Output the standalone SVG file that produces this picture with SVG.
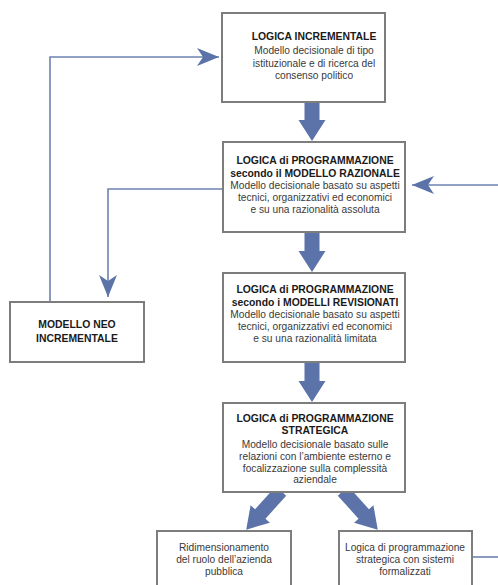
<svg xmlns="http://www.w3.org/2000/svg" width="498" height="585" viewBox="0 0 498 585">
  <style>
    .box { fill: #ffffff; stroke: #7d7d7d; stroke-width: 2; }
    .t { font-family: "Liberation Sans", Arial, sans-serif; font-size: 10.4px; font-weight: bold; fill: #1a1a1a; text-anchor: middle; }
    .b { font-family: "Liberation Sans", Arial, sans-serif; font-size: 10.2px; fill: #3a3a3a; text-anchor: middle; }
    .link { fill: none; stroke: #6d82b0; stroke-width: 1.6; }
    .flow { fill: #5b73a8; }
  </style>
  <defs>
    <!-- barbed arrowhead for thin connectors, tip at origin -->
    <marker id="barb" markerUnits="userSpaceOnUse" markerWidth="24" markerHeight="20" viewBox="-22 -10 24 20" refX="0" refY="0" orient="auto">
      <path d="M0,0 L-22,-9 L-16,0 L-22,9 Z" fill="#5b73a8"/>
    </marker>
    <!-- thick flow arrows pointing down, tail at origin -->
    <path id="down" d="M-7.5,0 H7.5 V18 H13.5 L0,39 L-13.5,18 H-7.5 Z"/>
    <path id="diag" d="M-7,0 H7 V31 H13 L0,52 L-13,31 H-7 Z"/>
  </defs>

  <g id="connectors">
    <polyline class="link" points="50,302 50,57 219,57" marker-end="url(#barb)"/>
    <polyline class="link" points="223,189 108,189 108,297" marker-end="url(#barb)"/>
    <line class="link" x1="498" y1="185" x2="412" y2="185" marker-end="url(#barb)"/>
    <line class="link" x1="472" y1="557" x2="498" y2="557"/>
    <use href="#down" class="flow" transform="translate(312,102)"/>
    <use href="#down" class="flow" transform="translate(312,233)"/>
    <use href="#down" class="flow" transform="translate(312,363)"/>
    <use href="#diag" class="flow" transform="translate(281,491) rotate(42)"/>
    <use href="#diag" class="flow" transform="translate(343,491) rotate(-42)"/>
  </g>

  <g id="logica-incrementale">
    <rect class="box" x="222" y="13" width="163" height="89"/>
    <text class="t" x="314" y="40">LOGICA INCREMENTALE</text>
    <text class="b" x="314" y="54">Modello decisionale di tipo</text>
    <text class="b" x="314" y="67">istituzionale e di ricerca del</text>
    <text class="b" x="314" y="79">consenso politico</text>
  </g>

  <g id="modello-razionale">
    <rect class="box" x="223" y="142" width="182" height="90"/>
    <text class="t" x="315" y="164">LOGICA di PROGRAMMAZIONE</text>
    <text class="t" x="315" y="177">secondo il MODELLO RAZIONALE</text>
    <text class="b" x="315" y="189">Modello decisionale basato su aspetti</text>
    <text class="b" x="315" y="201">tecnici, organizzativi ed economici</text>
    <text class="b" x="315" y="213">e su una razionalità assoluta</text>
  </g>

  <g id="modelli-revisionati">
    <rect class="box" x="223" y="273" width="182" height="89"/>
    <text class="t" x="315" y="293">LOGICA di PROGRAMMAZIONE</text>
    <text class="t" x="315" y="306">secondo i MODELLI REVISIONATI</text>
    <text class="b" x="315" y="318">Modello decisionale basato su aspetti</text>
    <text class="b" x="315" y="330">tecnici, organizzativi ed economici</text>
    <text class="b" x="315" y="342">e su una razionalità limitata</text>
  </g>

  <g id="programmazione-strategica">
    <rect class="box" x="223" y="403" width="182" height="89"/>
    <text class="t" x="315" y="422">LOGICA di PROGRAMMAZIONE</text>
    <text class="t" x="315" y="434">STRATEGICA</text>
    <text class="b" x="315" y="448">Modello decisionale basato sulle</text>
    <text class="b" x="315" y="460">relazioni con l’ambiente esterno e</text>
    <text class="b" x="315" y="472">focalizzazione sulla complessità</text>
    <text class="b" x="315" y="483">aziendale</text>
  </g>

  <g id="modello-neo-incrementale">
    <rect class="box" x="10" y="302" width="134" height="60"/>
    <text class="t" x="77" y="328">MODELLO NEO</text>
    <text class="t" x="77" y="342">INCREMENTALE</text>
  </g>

  <g id="ridimensionamento">
    <rect class="box" x="157" y="531" width="134" height="64"/>
    <text class="b" x="224" y="551">Ridimensionamento</text>
    <text class="b" x="224" y="563">del ruolo dell’azienda</text>
    <text class="b" x="224" y="575">pubblica</text>
  </g>

  <g id="sistemi-formalizzati">
    <rect class="box" x="339" y="531" width="133" height="64"/>
    <text class="b" x="405" y="551">Logica di programmazione</text>
    <text class="b" x="405" y="563">strategica con sistemi</text>
    <text class="b" x="405" y="575">formalizzati</text>
  </g>
</svg>
